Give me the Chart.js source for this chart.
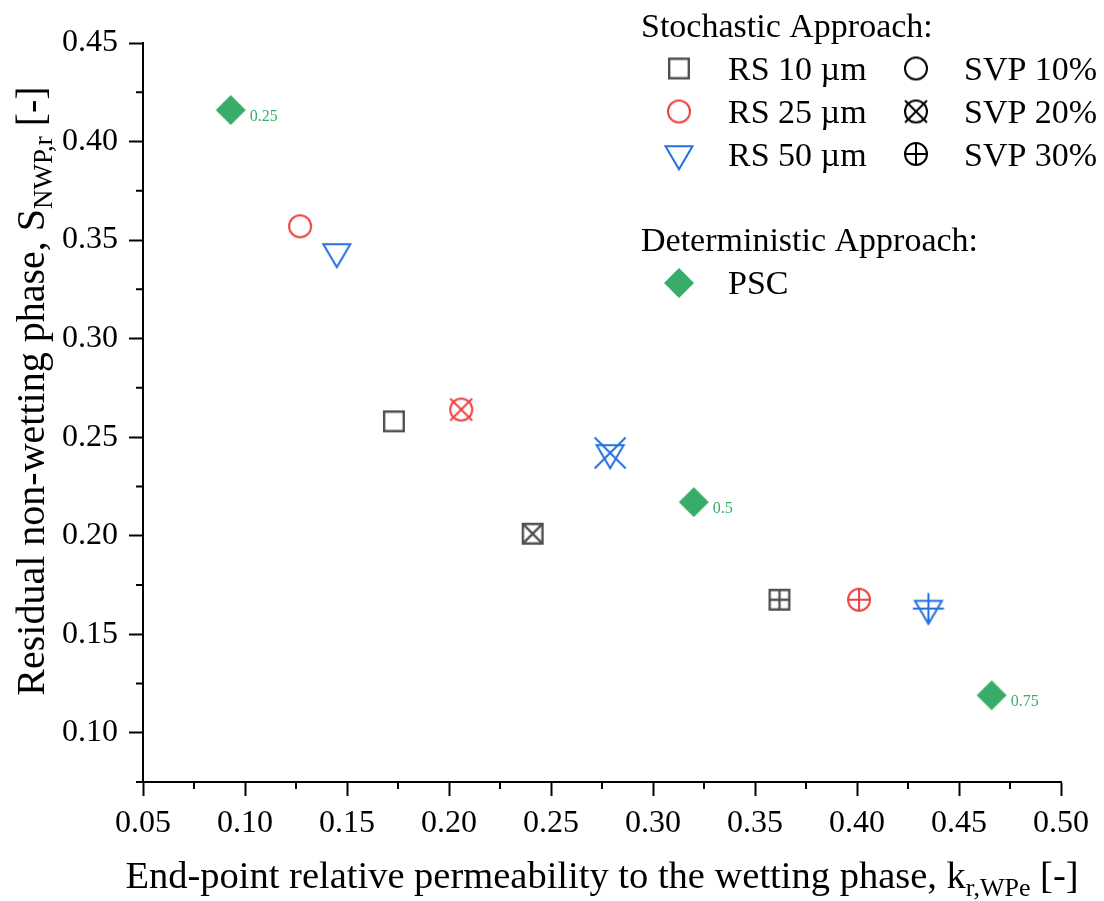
<!DOCTYPE html>
<html>
<head>
<meta charset="utf-8">
<script src="https://cdn.jsdelivr.net/npm/chart.js@4.4.1/dist/chart.umd.min.js"></script>
<style>
  body { margin: 0; background: #fff; }
  canvas { display: block; }
</style>
</head>
<body>
<canvas id="permChart" width="1104" height="901"></canvas>
<script>
// values: x = kr,WPe, y = S_NWP,r
const rsLabels = ['RS 10 µm', 'RS 25 µm', 'RS 50 µm'];
const svpLevels = ['SVP 10%', 'SVP 20%', 'SVP 30%'];
const rs10X = [0.173, 0.241, 0.362];
const rs10Y = [0.258, 0.201, 0.1675];
const rs25X = [0.127, 0.206, 0.401];
const rs25Y = [0.357, 0.264, 0.1675];
const rs50X = [0.145, 0.279, 0.435];
const rs50Y = [0.344, 0.242, 0.163];
const pscX = [0.093, 0.320, 0.466];
const pscY = [0.416, 0.217, 0.119];
const pscLabels = ['0.25', '0.5', '0.75'];
const xTickVals = [0.05, 0.10, 0.15, 0.20, 0.25, 0.30, 0.35, 0.40, 0.45, 0.50];
const yTickVals = [0.10, 0.15, 0.20, 0.25, 0.30, 0.35, 0.40, 0.45];

const GRAY = '#505050', RED = '#ee4040', BLUE = '#2070e0', GREEN = '#38ad69';
const FONT = '"Liberation Serif", "Times New Roman", serif';

// little canvases used as point styles (Origin-like compound symbols)
function marker(shape, overlay, color) {
  const c = document.createElement('canvas');
  c.width = c.height = 44;
  const g = c.getContext('2d');
  g.translate(22, 22);
  g.strokeStyle = color;
  g.fillStyle = color;
  g.lineWidth = 2;
  g.beginPath();
  let e = 10.5;
  if (shape === 'square') {
    g.lineWidth = 2.4;
    g.rect(-9.8, -9.8, 19.6, 19.6);
    e = 9.8;
  } else if (shape === 'circle') {
    g.arc(0, 0, 11, 0, Math.PI * 2);
    e = 11;
  } else if (shape === 'triDown') {
    g.moveTo(-13.5, -7.7);
    g.lineTo(13.5, -7.7);
    g.lineTo(0, 15.3);
    g.closePath();
    e = 15.5;
  } else if (shape === 'diamond') {
    g.moveTo(0, -15);
    g.lineTo(15, 0);
    g.lineTo(0, 15);
    g.lineTo(-15, 0);
    g.closePath();
    g.fill();
  }
  if (shape !== 'diamond') g.stroke();
  g.beginPath();
  if (overlay === 'x') {
    g.moveTo(-e, -e); g.lineTo(e, e);
    g.moveTo(e, -e); g.lineTo(-e, e);
  } else if (overlay === 'plus') {
    g.moveTo(-e, 0); g.lineTo(e, 0);
    g.moveTo(0, -e); g.lineTo(0, e);
  }
  g.stroke();
  return c;
}

const overlays = [null, 'x', 'plus'];
const rs10Marks = overlays.map(o => marker('square', o, GRAY));
const rs25Marks = overlays.map(o => marker('circle', o, RED));
const rs50Marks = overlays.map(o => marker('triDown', o, BLUE));
const pscMark = marker('diamond', null, GREEN);
const svpMarks = overlays.map(o => marker('circle', o, '#000'));

function pts(xs, ys) {
  return xs.map((x, i) => ({ x: x, y: ys[i] }));
}

function drawCentered(g, img, x, y) {
  g.drawImage(img, x - img.width / 2, y - img.height / 2);
}

// text with a subscript part, centred on (0,0) baseline
function drawRich(g, parts) {
  let w = 0;
  parts.forEach(p => { g.font = p.size + 'px ' + FONT; p.w = g.measureText(p.t).width; w += p.w; });
  let x = -w / 2;
  g.textAlign = 'left';
  g.textBaseline = 'alphabetic';
  parts.forEach(p => {
    g.font = p.size + 'px ' + FONT;
    g.fillText(p.t, x, p.dy);
    x += p.w;
  });
}

const minorTicks = {
  id: 'minorTicks',
  afterDraw(chart) {
    const g = chart.ctx;
    const xs = chart.scales.x, ys = chart.scales.y;
    const area = chart.chartArea;
    g.save();
    g.strokeStyle = '#000';
    g.lineWidth = 2;
    g.beginPath();
    for (let i = 0; i < xTickVals.length - 1; i++) {
      const px = xs.getPixelForValue((xTickVals[i] + xTickVals[i + 1]) / 2);
      g.moveTo(px, area.bottom);
      g.lineTo(px, area.bottom + 7);
    }
    const ym = [yTickVals[0] - 0.025];
    for (let i = 0; i < yTickVals.length - 1; i++) ym.push((yTickVals[i] + yTickVals[i + 1]) / 2);
    ym.forEach(v => {
      const py = ys.getPixelForValue(v);
      g.moveTo(area.left, py);
      g.lineTo(area.left - 7, py);
    });
    g.stroke();
    g.restore();
  }
};

const pointLabels = {
  id: 'pointLabels',
  afterDatasetsDraw(chart) {
    const g = chart.ctx;
    const meta = chart.getDatasetMeta(3);
    g.save();
    g.font = '16px ' + FONT;
    g.fillStyle = GREEN;
    g.textAlign = 'left';
    g.textBaseline = 'alphabetic';
    meta.data.forEach((pt, i) => g.fillText(pscLabels[i], pt.x + 19, pt.y + 11));
    g.restore();
  }
};

const axisTitles = {
  id: 'axisTitles',
  afterDraw(chart) {
    const g = chart.ctx;
    const area = chart.chartArea;
    g.save();
    g.fillStyle = '#000';
    g.translate((area.left + area.right) / 2, 888);
    drawRich(g, [
      { t: 'End-point relative permeability to the wetting phase, k', size: 38.5, dy: 0 },
      { t: 'r,WPe', size: 26, dy: 8 },
      { t: ' [-]', size: 38.5, dy: 0 }
    ]);
    g.restore();
    g.save();
    g.fillStyle = '#000';
    g.translate(44, 391);
    g.rotate(-Math.PI / 2);
    drawRich(g, [
      { t: 'Residual non-wetting phase, S', size: 40, dy: 0 },
      { t: 'NWP,r', size: 27, dy: 8 },
      { t: ' [-]', size: 40, dy: 0 }
    ]);
    g.restore();
  }
};

const legendBox = {
  id: 'legendBox',
  afterDraw(chart) {
    const g = chart.ctx;
    g.save();
    g.fillStyle = '#000';
    g.textAlign = 'left';
    g.textBaseline = 'alphabetic';
    g.font = '34px ' + FONT;
    g.fillText('Stochastic Approach:', 641, 37);
    const rsMarks = [rs10Marks[0], rs25Marks[0], rs50Marks[0]];
    const rowY = [68.5, 111.5, 154];
    rowY.forEach((y, i) => {
      drawCentered(g, rsMarks[i], 679, y);
      g.fillText(rsLabels[i], 728, y + 11.5);
      drawCentered(g, svpMarks[i], 916, y);
      g.fillText(svpLevels[i], 964, y + 11.5);
    });
    g.fillText('Deterministic Approach:', 641, 251);
    drawCentered(g, pscMark, 679, 283);
    g.fillText('PSC', 728, 294);
    g.restore();
  }
};

const ds = (label, data, marks) => ({
  label: label,
  data: data,
  showLine: false,
  pointStyle: ctx => marks[ctx.dataIndex || 0],
  pointRadius: 15,
  pointHoverRadius: 15
});

new Chart(document.getElementById('permChart'), {
  type: 'scatter',
  data: {
    datasets: [
      ds(rsLabels[0], pts(rs10X, rs10Y), rs10Marks),
      ds(rsLabels[1], pts(rs25X, rs25Y), rs25Marks),
      ds(rsLabels[2], pts(rs50X, rs50Y), rs50Marks),
      ds('PSC', pts(pscX, pscY), [pscMark, pscMark, pscMark])
    ]
  },
  options: {
    responsive: false,
    animation: false,
    devicePixelRatio: 1,
    events: [],
    layout: { padding: { left: 0, top: 43, right: 43, bottom: 0 } },
    plugins: {
      legend: { display: false },
      tooltip: { enabled: false }
    },
    scales: {
      x: {
        type: 'linear',
        min: 0.05,
        max: 0.50,
        afterBuildTicks: s => { s.ticks = xTickVals.map(v => ({ value: v })); },
        afterFit: s => { s.height = 119; },
        border: { display: true, color: '#000', width: 2 },
        grid: { drawOnChartArea: false, drawTicks: true, tickLength: 14, tickWidth: 2, tickColor: '#000' },
        ticks: {
          autoSkip: false, maxRotation: 0, padding: 8, color: '#000',
          font: { family: FONT, size: 32 },
          callback: v => v.toFixed(2)
        }
      },
      y: {
        type: 'linear',
        min: 0.075,
        max: 0.45,
        afterBuildTicks: s => { s.ticks = yTickVals.map(v => ({ value: v })); },
        afterFit: s => { s.width = 143; },
        border: { display: true, color: '#000', width: 2 },
        grid: { drawOnChartArea: false, drawTicks: true, tickLength: 14, tickWidth: 2, tickColor: '#000' },
        ticks: {
          autoSkip: false, padding: 11, color: '#000',
          font: { family: FONT, size: 32 },
          callback: v => v.toFixed(2)
        }
      }
    }
  },
  plugins: [minorTicks, pointLabels, axisTitles, legendBox]
});
</script>
</body>
</html>
